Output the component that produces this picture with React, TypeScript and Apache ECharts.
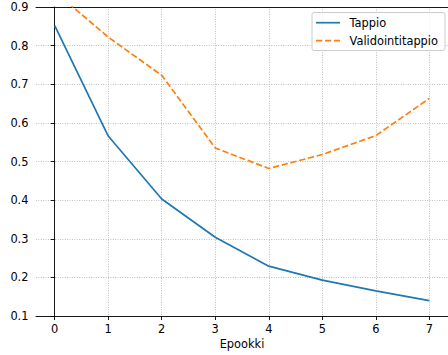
import React, { useEffect, useRef } from "react";
import * as echarts from "echarts";

const epochs = [0, 1, 2, 3, 4, 5, 6, 7];
const loss = [0.852, 0.566, 0.403, 0.304, 0.229, 0.193, 0.165, 0.14];
const valLoss = [0.94, 0.822, 0.723, 0.535, 0.482, 0.518, 0.567, 0.663];
const yTicks = [0.1, 0.2, 0.3, 0.4, 0.5, 0.6, 0.7, 0.8, 0.9];
const seriesNames = ["Tappio", "Validointitappio"];
const xName = "Epookki";

const FONT = "DejaVu Sans";
const FS = 11.4;
const BLUE = "#1f77b4";
const ORANGE = "#ff7f0e";
const GRID_LINE = { color: "#b0b0b0", width: 0.9, type: [0.9, 1.5] as any };
const SPINE = { color: "#000", width: 0.9 };

export default function App() {
  const ref = useRef<HTMLDivElement>(null);
  useEffect(() => {
    if (!ref.current) return;
    const chart = echarts.init(ref.current, null, { renderer: "svg" });
    const axisText = { fontFamily: FONT, fontSize: FS, color: "#000" };
    chart.setOption({
      animation: false,
      backgroundColor: "#fff",
      grid: { left: 36, top: 7, width: 414, height: 309, containLabel: false },
      xAxis: [
        {
          type: "value",
          min: -0.35,
          max: 7.35,
          axisLine: { show: true, lineStyle: SPINE },
          axisTick: { show: true, length: 4, customValues: epochs, lineStyle: SPINE },
          axisLabel: { ...axisText, margin: 7, customValues: epochs, formatter: (v: number) => String(v) },
          splitLine: { show: true, lineStyle: GRID_LINE },
          name: xName,
          nameLocation: "middle",
          nameGap: 22,
          nameTextStyle: { fontFamily: FONT, fontSize: FS, color: "#000" },
        },
        {
          type: "value",
          position: "top",
          min: -0.35,
          max: 7.35,
          axisLine: { show: true, onZero: false, lineStyle: SPINE },
          axisTick: { show: false },
          axisLabel: { show: false },
          splitLine: { show: false },
        },
      ],
      yAxis: {
        type: "value",
        min: 0.1,
        max: 0.9,
        axisLine: { show: true, lineStyle: SPINE },
        axisTick: { show: true, length: 4, customValues: yTicks, lineStyle: SPINE },
        axisLabel: { ...axisText, margin: 7.5, customValues: yTicks, formatter: (v: number) => v.toFixed(1) },
        splitLine: { show: true, lineStyle: GRID_LINE },
      },
      series: [
        {
          name: seriesNames[0],
          type: "line",
          data: epochs.map((e, i) => [e, loss[i]]),
          showSymbol: false,
          symbol: "none",
          lineStyle: { color: BLUE, width: 1.7 },
          clip: true,
        },
        {
          name: seriesNames[1],
          type: "line",
          data: epochs.map((e, i) => [e, valLoss[i]]),
          showSymbol: false,
          symbol: "none",
          lineStyle: { color: ORANGE, width: 1.7, type: [6.3, 2.7] },
          clip: true,
        },
      ],
      graphic: [
        {
          type: "rect",
          shape: { x: 312, y: 12.5, width: 133, height: 38, r: 2 },
          style: { fill: "rgba(255,255,255,0.8)", stroke: "#cccccc", lineWidth: 1 },
          z: 100,
        },
        {
          type: "line",
          shape: { x1: 316, y1: 22.7, x2: 340, y2: 22.7 },
          style: { stroke: BLUE, lineWidth: 1.7 },
          z: 101,
        },
        {
          type: "line",
          shape: { x1: 316, y1: 40.7, x2: 340, y2: 40.7 },
          style: { stroke: ORANGE, lineWidth: 1.7, lineDash: [6.3, 2.7] },
          z: 101,
        },
        {
          type: "text",
          x: 349.5,
          y: 22.7,
          style: { text: seriesNames[0], fontFamily: FONT, fontSize: FS, fill: "#000", verticalAlign: "middle" },
          z: 101,
        },
        {
          type: "text",
          x: 349.5,
          y: 40.7,
          style: { text: seriesNames[1], fontFamily: FONT, fontSize: FS, fill: "#000", verticalAlign: "middle" },
          z: 101,
        },
      ],
    });
    return () => chart.dispose();
  }, []);
  return (
    <div
      ref={ref}
      style={{ position: "fixed", left: 0, top: 0, width: 448, height: 355, background: "#fff" }}
    />
  );
}
